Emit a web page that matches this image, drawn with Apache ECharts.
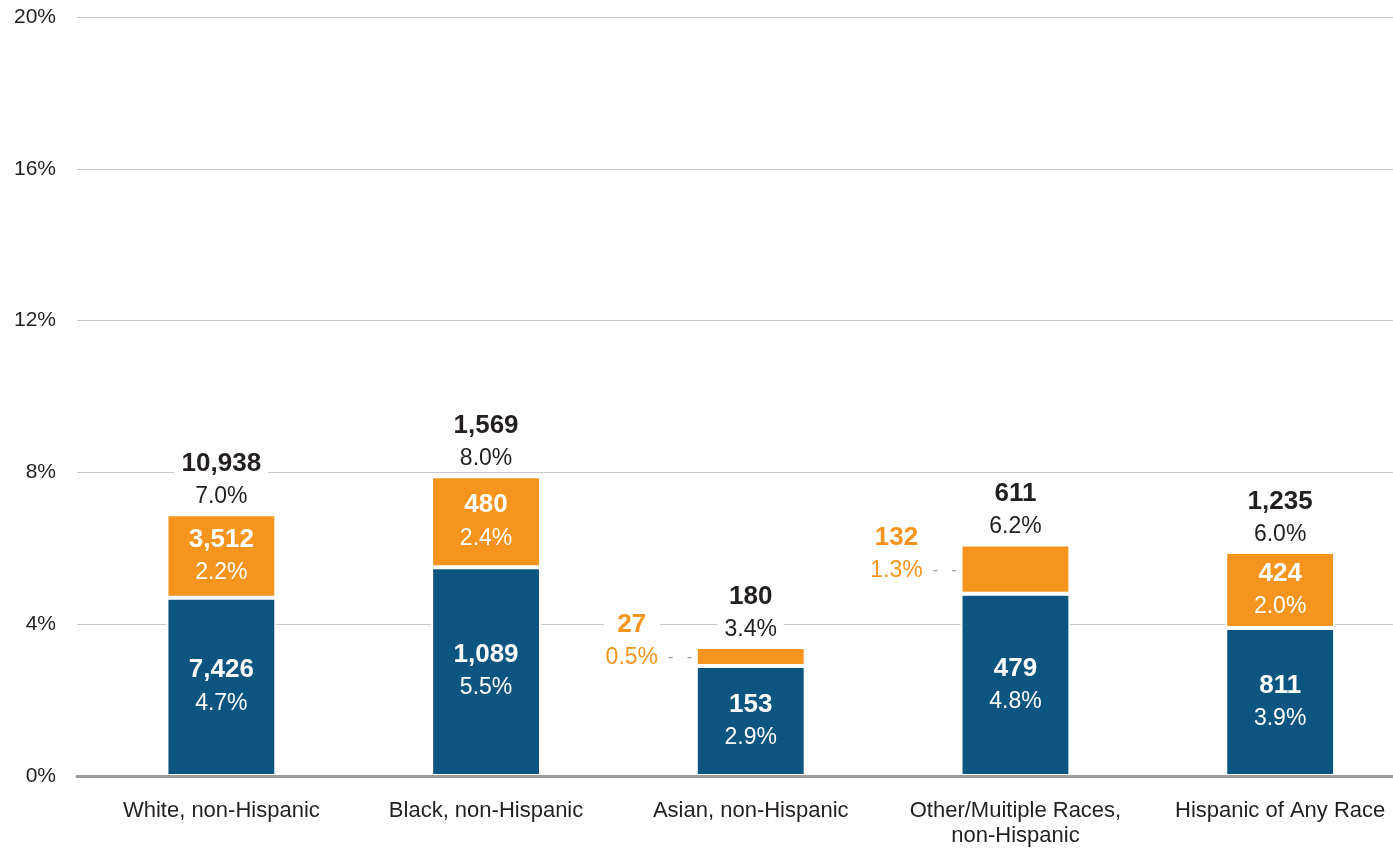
<!DOCTYPE html>
<html>
<head>
<meta charset="utf-8">
<script src="https://cdn.jsdelivr.net/npm/echarts@6/dist/echarts.min.js"></script>
<style>
  html, body { margin: 0; padding: 0; background: #fff; }
  #chart { width: 1393px; height: 848px; }
</style>
</head>
<body>
<div id="chart"></div>
<script>
// Groups shown along the x axis
const categories = [
  'White, non-Hispanic',
  'Black, non-Hispanic',
  'Asian, non-Hispanic',
  'Other/Muitiple Races,\nnon-Hispanic',
  'Hispanic of Any Race'
];

// Lower (blue) segment: counts and rates (%)
const blueCounts = [7426, 1089, 153, 479, 811];
const bluePct = [4.7, 5.5, 2.9, 4.8, 3.9];

// Upper (orange) segment: counts and rates (%)
const orangeCounts = [3512, 480, 27, 132, 424];
const orangePct = [2.2, 2.4, 0.5, 1.3, 2.0];

// Totals shown above each column
const totalCounts = [10938, 1569, 180, 611, 1235];
const totalPct = [7.0, 8.0, 3.4, 6.2, 6.0];

// Value axis ticks (%)
const yTicks = [0, 4, 8, 12, 16, 20];

const FONT = "'Liberation Sans', Helvetica, Arial, sans-serif";
const DARK = '#231f20';
const BLUE = '#0d5581';
const ORANGE = '#f7941d';

const fmtCount = v => v.toLocaleString('en-US');
const fmtPct = v => v.toFixed(1) + '%';

// Segments too short to hold their own label get it placed to the left
const MIN_INSIDE = 1.5;

const insideRich = {
  c: { color: '#fff', fontFamily: FONT, fontWeight: 'bold', fontSize: 26, lineHeight: 33 },
  p: { color: '#fff', fontFamily: FONT, fontSize: 23, lineHeight: 33 }
};

const blueData = bluePct.map((v, i) => ({
  value: v,
  label: { formatter: `{c|${fmtCount(blueCounts[i])}}\n{p|${fmtPct(v)}}` }
}));

const orangeData = orangePct.map((v, i) => {
  const text = fmtCount(orangeCounts[i]);
  if (v >= MIN_INSIDE) {
    return { value: v, label: { formatter: `{c|${text}}\n{p|${fmtPct(v)}}` } };
  }
  return {
    value: v,
    label: {
      position: 'left',
      distance: 0,
      offset: [0, -15],
      formatter: `{oc|${text}}{sp|}\n{op|${fmtPct(v)}}{d| -   -}`,
      rich: {
        oc: { color: ORANGE, fontFamily: FONT, fontWeight: 'bold', fontSize: 26, lineHeight: 33,
              width: 56, align: 'center', backgroundColor: '#fff' },
        sp: { width: 36, lineHeight: 33 },
        op: { color: ORANGE, fontFamily: FONT, fontSize: 23, lineHeight: 33,
              width: 56, align: 'center', backgroundColor: '#fff' },
        d: { color: '#9a9a9a', fontFamily: FONT, fontSize: 16, lineHeight: 33,
             width: 36, align: 'left' }
      }
    }
  };
});

const totalData = totalPct.map((v, i) => ({
  value: 0,
  label: { formatter: `{tc|${fmtCount(totalCounts[i])}}\n{tp|${fmtPct(v)}}` }
}));

const chart = echarts.init(document.getElementById('chart'), null, { renderer: 'canvas' });

chart.setOption({
  animation: false,
  backgroundColor: '#fff',
  grid: [
    // frame carrying the value gridlines and the baseline
    { left: 77, right: 0, top: 17, bottom: 72, outerBoundsMode: 'none' },
    // frame carrying the columns (runs past the right edge)
    { left: 89, width: 1323.5, top: 17, bottom: 72, outerBoundsMode: 'none' }
  ],
  xAxis: [
    {
      gridIndex: 0, type: 'value', min: 0, max: 1, z: 5,
      axisLine: { show: true, lineStyle: { color: '#9d9d9d', width: 3 } },
      axisTick: { show: false }, axisLabel: { show: false }, splitLine: { show: false }
    },
    {
      gridIndex: 1, type: 'category', data: categories,
      axisLine: { show: false }, axisTick: { show: false },
      axisLabel: { color: DARK, fontFamily: FONT, fontSize: 22, lineHeight: 25, margin: 22, interval: 0 }
    }
  ],
  yAxis: [
    {
      gridIndex: 0, type: 'value', min: yTicks[0], max: yTicks[yTicks.length - 1],
      interval: yTicks[1] - yTicks[0],
      axisLine: { show: false }, axisTick: { show: false },
      axisLabel: { color: DARK, fontFamily: FONT, fontSize: 21, margin: 21, padding: [6, 0, 0, 0],
                   formatter: '{value}%' },
      splitLine: { lineStyle: { color: '#c8c8c8', width: 1 } }
    },
    {
      gridIndex: 1, type: 'value', min: yTicks[0], max: yTicks[yTicks.length - 1],
      interval: yTicks[1] - yTicks[0], show: false, splitLine: { show: false }
    }
  ],
  series: [
    {
      type: 'bar', stack: 'rate', xAxisIndex: 1, yAxisIndex: 1,
      barWidth: '41.5%',
      data: blueData,
      itemStyle: { color: BLUE, borderColor: '#fff', borderWidth: 2 },
      label: { show: true, position: 'inside', rich: insideRich }
    },
    {
      type: 'bar', stack: 'rate', xAxisIndex: 1, yAxisIndex: 1,
      barWidth: '41.5%',
      data: orangeData,
      itemStyle: { color: ORANGE, borderColor: '#fff', borderWidth: 2 },
      label: { show: true, position: 'inside', rich: insideRich }
    },
    {
      type: 'bar', stack: 'rate', xAxisIndex: 1, yAxisIndex: 1,
      barWidth: '41.5%',
      data: totalData,
      itemStyle: { color: 'rgba(0,0,0,0)', borderWidth: 0 },
      label: {
        show: true, position: 'top', distance: 1,
        rich: {
          tc: { color: DARK, fontFamily: FONT, fontWeight: 'bold', fontSize: 26, lineHeight: 33,
                backgroundColor: '#fff', padding: [0, 7] },
          tp: { color: DARK, fontFamily: FONT, fontSize: 23, lineHeight: 33,
                backgroundColor: '#fff', padding: [0, 7] }
        }
      }
    }
  ]
});
</script>
</body>
</html>
